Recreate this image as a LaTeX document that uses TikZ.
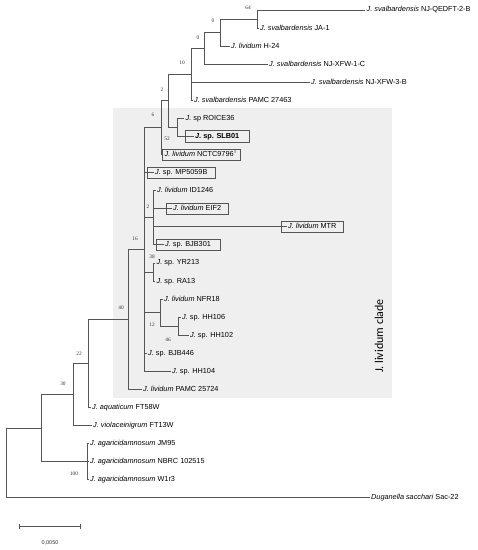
\documentclass[tikz,border=0pt]{standalone}
\usepackage{fontspec}
\setmainfont{Liberation Sans}
\newfontfamily\bootfont{Liberation Serif}
\newfontfamily\cladefont{Carlito}
\usetikzlibrary{arrows.meta, fit}
\definecolor{clade_grey}{RGB}{239, 239, 239}
\definecolor{branch_grey}{RGB}{85, 85, 85}
\def \J {\textit{J.}}
\def \Jl {\textit{J. lividum}}
\def \Js {\textit{J. svalbardensis}}
\def \Ja {\textit{J. agaricidamnosum}}

\begin{document}
\begin{tikzpicture}[
    x=1pt, y=-1pt,
    leaf/.style={
        anchor=west,
        inner xsep=1.5pt,
        inner ysep=1pt,
        text height=5.4pt,
        text depth=1.6pt,
        font=\fontsize{7.3}{8}\selectfont
    },
    leafbox/.style={
        draw=branch_grey,
        line width=0.7pt,
        inner xsep=#1,
        inner ysep=1pt
    },
    leafbox/.default=6pt,
    boot/.style={
        inner sep=0pt,
        text=black!80,
        font=\bootfont\fontsize{5.3}{6}\selectfont
    },
    branch/.style={
        draw=branch_grey,
        line width=0.95pt
    }
]

% Page and clade background
\path[fill=white] (0,0) rectangle (478,550);
\useasboundingbox (0,0) rectangle (478,550);
\fill[clade_grey] (113,108) rectangle (392,398);
\node[rotate=90, font=\cladefont\fontsize{12}{14}\selectfont] (cladelbl) at (379,336) {J. lividum clade};

% Leaves, top to bottom
\node[leaf] (qedft) at (365,10.0) {\Js{} NJ-QEDFT-2-B};
\node[leaf] (ja1) at (258.5,28.1) {\Js{} JA-1};
\node[leaf] (h24) at (229.5,46.1) {\Jl{} H-24};
\node[leaf] (xfw1c) at (267.5,64.2) {\Js{} NJ-XFW-1-C};
\node[leaf] (xfw3b) at (309.5,82.3) {\Js{} NJ-XFW-3-B};
\node[leaf] (pamc27463) at (192.5,100.4) {\Js{} PAMC 27463};
\node[leaf] (roice36) at (184,118.4) {\J{} sp ROICE36};
\node[leaf] (slb01) at (193.5,136.5) {\textbf{\J{} sp. SLB01}};
\node[leaf] (nctc9796) at (163,154.6) {\Jl{} NCTC9796\textsuperscript{T}};
\node[leaf] (mp5059b) at (153.5,172.6) {\J{} sp. MP5059B};
\node[leaf] (id1246) at (155.5,190.7) {\Jl{} ID1246};
\node[leaf] (eif2) at (171.5,208.8) {\Jl{} EIF2};
\node[leaf] (mtr) at (286.5,226.8) {\Jl{} MTR};
\node[leaf] (bjb301) at (163.5,244.9) {\J{} sp. BJB301};
\node[leaf] (yr213) at (155,263.0) {\J{} sp. YR213};
\node[leaf] (ra13) at (155,281.1) {\J{} sp. RA13};
\node[leaf] (nfr18) at (162.5,299.1) {\Jl{} NFR18};
\node[leaf] (hh106) at (180.5,317.2) {\J{} sp. HH106};
\node[leaf] (hh102) at (188.5,335.3) {\J{} sp. HH102};
\node[leaf] (bjb446) at (146.5,353.3) {\J{} sp. BJB446};
\node[leaf] (hh104) at (170.5,371.4) {\J{} sp. HH104};
\node[leaf] (pamc25724) at (141.5,389.5) {\Jl{} PAMC 25724};
\node[leaf] (ft58w) at (90.5,407.5) {\textit{J. aquaticum} FT58W};
\node[leaf] (ft13w) at (91.5,425.6) {\textit{J. violaceinigrum} FT13W};
\node[leaf] (jm95) at (88.5,443.7) {\Ja{} JM95};
\node[leaf] (nbrc) at (88.5,461.8) {\Ja{} NBRC 102515};
\node[leaf] (w1r3) at (88.5,479.8) {\Ja{} W1r3};
\node[leaf] (sac22) at (369.5,497.9) {\textit{Duganella sacchari} Sac-22};

% Boxed strains
\node[leafbox=8pt, fit=(slb01)] (slb01box) {};
\node[leafbox=1pt, fit=(nctc9796)] (nctcbox) {};
\node[leafbox=6pt, fit=(mp5059b)] (mp5059bbox) {};
\node[leafbox=5.5pt, fit=(eif2)] (eif2box) {};
\node[leafbox=5.5pt, fit=(mtr)] (mtrbox) {};
\node[leafbox=7.5pt, fit=(bjb301)] (bjb301box) {};

% Internal nodes
\coordinate (n64) at (257,19.05);
\coordinate (n0b) at (220,32.6);
\coordinate (n0a) at (204,48.4);
\coordinate (n10) at (191,74.4);
\coordinate (n52) at (177,127.45);
\coordinate (n2a) at (168,100.9);
\coordinate (n6) at (161,127.75);
\coordinate (n2b) at (153,217.8);
\coordinate (n38) at (153,272.05);
\coordinate (n46) at (178,326.25);
\coordinate (n12) at (160,312.7);
\coordinate (n16) at (144,249.6);
\coordinate (n40) at (128,319.55);
\coordinate (n22) at (88,363.5);
\coordinate (n30) at (73,394.55);
\coordinate (n100) at (87,461.75);
\coordinate (nA) at (41,428.15);
\coordinate (root) at (6,463);

% Branches
\draw[branch] (n64) |- (qedft.west) (n64) |- (ja1.west);
\draw[branch] (n0b) |- (n64) (n0b) |- (h24.west);
\draw[branch] (n0a) |- (n0b) (n0a) |- (xfw1c.west);
\draw[branch] (n10) |- (n0a) (n10) |- (xfw3b.west) (n10) |- (pamc27463.west);
\draw[branch] (n52) |- (roice36.west) (n52) |- (slb01.west);
\draw[branch] (n2a) |- (n10) (n2a) |- (n52);
\draw[branch] (n6) |- (n2a) (n6) |- (nctc9796.west);
\draw[branch] (n2b) |- (id1246.west) (n2b) |- (eif2.west) (n2b) |- (mtr.west) (n2b) |- (bjb301.west);
\draw[branch] (n38) |- (yr213.west) (n38) |- (ra13.west);
\draw[branch] (n46) |- (hh106.west) (n46) |- (hh102.west);
\draw[branch] (n12) |- (nfr18.west) (n12) |- (n46);
\draw[branch] (n16) |- (n6) (n16) |- (mp5059b.west) (n16) |- (n2b) (n16) |- (n38);
\draw[branch] (n16) |- (n12) (n16) |- (bjb446.west) (n16) |- (hh104.west);
\draw[branch] (n40) |- (n16) (n40) |- (pamc25724.west);
\draw[branch] (n22) |- (n40) (n22) |- (ft58w.west);
\draw[branch] (n30) |- (n22) (n30) |- (ft13w.west);
\draw[branch] (n100) |- (jm95.west) (n100) |- (nbrc.west) (n100) |- (w1r3.west);
\draw[branch] (nA) |- (n30) (nA) |- (n100);
\draw[branch] (root) |- (nA) (root) |- (sac22.west);

% Bootstrap values
\node[boot] (b64) at (248,8) {64};
\node[boot] (b0b) at (213,21) {0};
\node[boot] (b0a) at (198,38) {0};
\node[boot] (b10) at (182,63) {10};
\node[boot] (b2a) at (162,90) {2};
\node[boot] (b6) at (153,115) {6};
\node[boot] (b52) at (167,139) {52};
\node[boot] (b2b) at (148,207) {2};
\node[boot] (b16) at (135,239) {16};
\node[boot] (b38) at (152,257) {38};
\node[boot] (b40) at (121,308) {40};
\node[boot] (b12) at (152,325) {12};
\node[boot] (b46) at (168,340) {46};
\node[boot] (b22) at (79,354) {22};
\node[boot] (b30) at (63,384) {30};
\node[boot] (b100) at (74,474) {100};

% Scale bar
\coordinate (scale_l) at (19,526);
\coordinate (scale_r) at (81,526);
\draw[branch, {Bar[width=5pt]}-{Bar[width=5pt]}] (scale_l) -- (scale_r);
\node[text=black!80, font=\fontsize{5.5}{6}\selectfont] (scalelbl) at (50,543) {0,0050};

\end{tikzpicture}
\end{document}
